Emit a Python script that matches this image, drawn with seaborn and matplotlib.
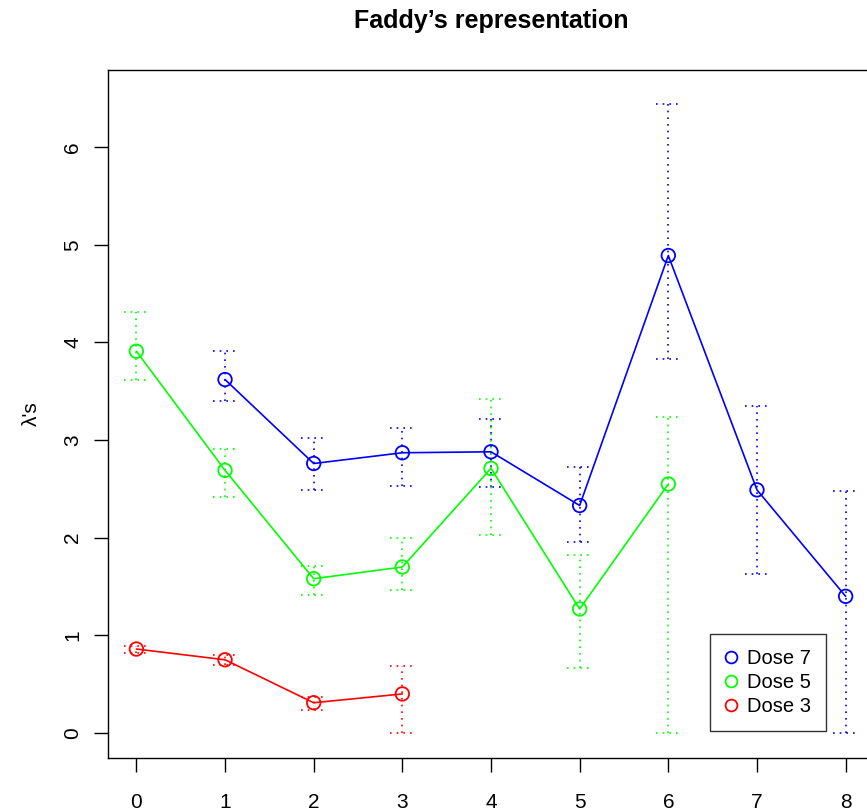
import numpy as np
import pandas as pd
import seaborn as sns
import matplotlib.pyplot as plt
from matplotlib.lines import Line2D

sns.set_style('white')
plt.rcParams['font.family'] = ['Liberation Sans', 'DejaVu Sans']
plt.rcParams['text.color'] = 'black'
plt.rcParams['axes.labelcolor'] = 'black'

# lambda estimates per dose with lower / upper limits
x7 = [1, 2, 3, 4, 5, 6, 7, 8]
dose7 = [3.62, 2.76, 2.87, 2.88, 2.33, 4.89, 2.49, 1.40]
low7 = [3.40, 2.49, 2.53, 2.52, 1.96, 3.83, 1.63, 0.00]
up7 = [3.91, 3.02, 3.12, 3.22, 2.72, 6.44, 3.35, 2.48]

x5 = [0, 1, 2, 3, 4, 5, 6]
dose5 = [3.91, 2.69, 1.58, 1.70, 2.71, 1.27, 2.55]
low5 = [3.62, 2.42, 1.41, 1.46, 2.03, 0.67, 0.00]
up5 = [4.31, 2.91, 1.71, 2.00, 3.42, 1.82, 3.24]

x3 = [0, 1, 2, 3]
dose3 = [0.86, 0.75, 0.31, 0.40]
low3 = [0.82, 0.70, 0.24, 0.00]
up3 = [0.89, 0.80, 0.37, 0.69]

labels = ['Dose 7', 'Dose 5', 'Dose 3']
colors = ['#0000ff', '#00ff00', '#ff0000']

series = [(x7, dose7, low7, up7), (x5, dose5, low5, up5), (x3, dose3, low3, up3)]
frames = []
for lab, (xs, ys, lo, hi) in zip(labels, series):
    frames.append(pd.DataFrame({'x': xs, 'lam': ys, 'lo': lo, 'hi': hi, 'dose': lab}))
df = pd.concat(frames, ignore_index=True)

fig = plt.figure(figsize=(8.67, 8.11), dpi=100)
ax = fig.add_axes([108/867, 1-758/811, 766/867, 688/811])

pal = dict(zip(labels, colors))
sns.lineplot(data=df, x='x', y='lam', hue='dose', palette=pal,
             linewidth=1.2, legend=False, ax=ax, estimator=None)
dots = (0, (1, 3))
for lab in labels:
    d = df[df.dose == lab]
    c = pal[lab]
    ax.scatter(d.x, d.lam, s=95, facecolors='none', edgecolors=c, linewidths=1.3, zorder=3)
    ax.vlines(d.x, d.lo, d.hi, colors=c, linestyles=dots, linewidth=1.2)
    ax.hlines(d.lo, d.x - 0.14, d.x + 0.14, colors=c, linestyles=dots, linewidth=1.2)
    ax.hlines(d.hi, d.x - 0.14, d.x + 0.14, colors=c, linestyles=dots, linewidth=1.2)

ax.set_xlim(-0.32, 8.32)
ax.set_ylim(-0.256, 6.79)
ax.set_xticks(range(9))
ax.set_yticks(range(7))
ax.tick_params(axis='both', direction='out', length=10, width=1, labelsize=15,
               bottom=True, left=True, colors='black')
ax.tick_params(axis='x', pad=15)
ax.tick_params(axis='y', pad=8.5)
for lbl in ax.get_yticklabels():
    lbl.set_rotation(90)
    lbl.set_va('center')
for s in ax.spines.values():
    s.set_color('black')
    s.set_linewidth(1)

ax.set_xlabel('')
ax.set_ylabel("λ's", fontsize=15, labelpad=16)
ax.set_title("Faddy’s representation", fontsize=18, fontweight='bold', pad=30)

handles = [Line2D([], [], linestyle='none', marker='o', markersize=8.5,
                  markerfacecolor='none', markeredgecolor=c, markeredgewidth=1.3)
           for c in colors]
leg = ax.legend(handles, labels, loc='lower right', bbox_to_anchor=(0.9373, 0.039),
                borderaxespad=0, fontsize=14.5, frameon=True, fancybox=False,
                edgecolor='black', handlelength=0.6, handletextpad=0.5,
                labelspacing=0.25, borderpad=0.75)
leg.get_frame().set_linewidth(1)

fig.savefig('out.png', dpi=100)
